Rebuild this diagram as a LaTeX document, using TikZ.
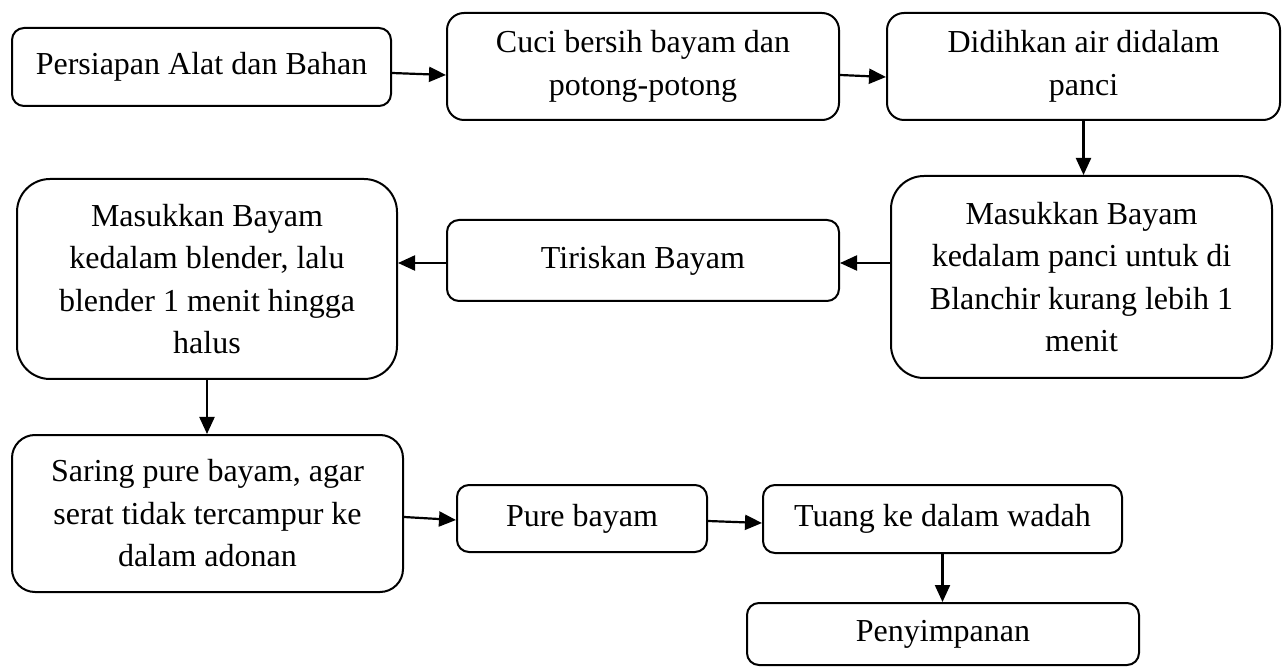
\documentclass[tikz,border=0pt]{standalone}
\usepackage{fontspec}
\setmainfont{Liberation Serif}
\usetikzlibrary{arrows.meta}
\begin{document}
\begin{tikzpicture}[x=1pt,y=-1pt,
  box/.style={draw, line width=2pt, align=center, inner sep=0pt,
    font=\fontsize{32pt}{42.5pt}\selectfont},
  arr/.style={line width=2.2pt, -{Triangle[length=17pt,width=15pt]}}]
\useasboundingbox (0,0) rectangle (1286,668);
\node[box, minimum width=379pt, minimum height=78pt, rounded corners=12pt] (b1) at (201.5,67) {Persiapan Alat dan Bahan};
\node[box, minimum width=392pt, minimum height=107pt, rounded corners=17pt] (b2) at (643,66.5) {Cuci bersih bayam dan\\potong-potong};
\node[box, minimum width=393pt, minimum height=107pt, rounded corners=17pt] (b3) at (1083.5,66.5) {Didihkan air didalam\\panci};
\node[box, minimum width=381pt, minimum height=202pt, rounded corners=33pt] (b4) at (1081.5,277) {Masukkan Bayam\\kedalam panci untuk di\\Blanchir kurang lebih 1\\menit};
\node[box, minimum width=392pt, minimum height=81pt, rounded corners=12pt] (b5) at (643,260.5) {Tiriskan Bayam};
\node[box, minimum width=380pt, minimum height=200pt, rounded corners=33pt] (b6) at (207,279) {Masukkan Bayam\\kedalam blender, lalu\\blender 1 menit hingga\\halus};
\node[box, minimum width=391pt, minimum height=157pt, rounded corners=23pt] (b7) at (207.5,513.5) {Saring pure bayam, agar\\serat tidak tercampur ke\\dalam adonan};
\node[box, minimum width=250pt, minimum height=67pt, rounded corners=12pt] (b8) at (582,518.5) {Pure bayam};
\node[box, minimum width=359pt, minimum height=68pt, rounded corners=12pt] (b9) at (942.5,519) {Tuang ke dalam wadah};
\node[box, minimum width=392pt, minimum height=62pt, rounded corners=12pt] (b10) at (943,634) {Penyimpanan};
\draw[arr] ([yshift=-6pt]b1.east) -- ([yshift=-8.5pt]b2.west);
\draw[arr] ([yshift=-8.5pt]b2.east) -- ([yshift=-10.5pt]b3.west);
\draw[arr] (b3.south) -- (b3.south |- b4.north);
\draw[arr] ([yshift=-2.5pt]b4.west |- b5.east) -- ([yshift=-2.5pt]b5.east);
\draw[arr] ([yshift=-2.5pt]b5.west) -- ([yshift=-2.5pt]b5.west -| b6.east);
\draw[arr] (b6.south) -- (b6.south |- b7.north);
\draw[arr] ([yshift=-3.5pt]b7.east) -- ([yshift=-1.5pt]b8.west);
\draw[arr] ([yshift=-2.5pt]b8.east) -- ([yshift=-4pt]b9.west);
\draw[arr] (b9.south) -- (b9.south |- b10.north);
\end{tikzpicture}
\end{document}
